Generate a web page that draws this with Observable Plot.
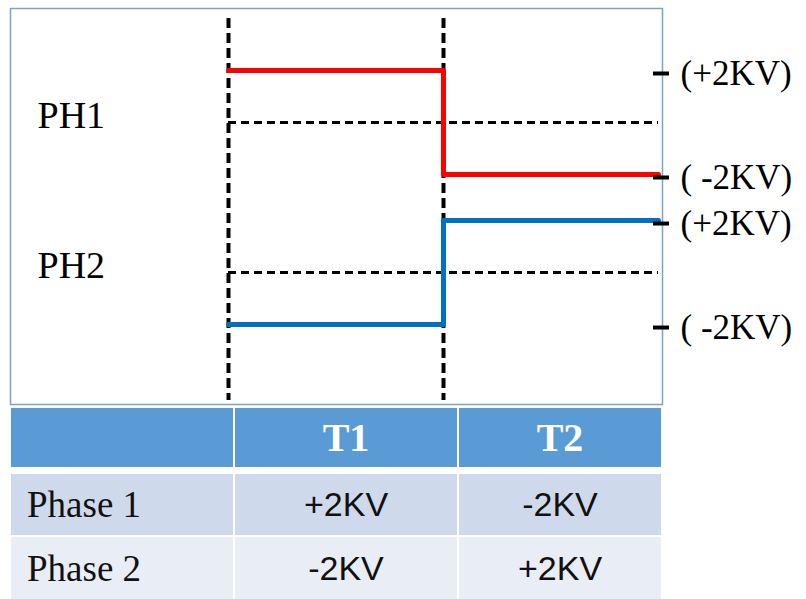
<!DOCTYPE html>
<html>
<head>
<meta charset="utf-8">
<script src="https://cdn.jsdelivr.net/npm/d3@7"></script>
<script src="https://cdn.jsdelivr.net/npm/@observablehq/plot@0.6"></script>
<style>
  body { margin: 0; background: white; }
  #wrap { width: 806px; height: 599px; overflow: hidden; position: relative; }
  #table {
    display: grid;
    margin-left: 11px;
    margin-top: 2px;
    grid-template-columns: 222px 222px 202px;
    grid-template-rows: 59px 7px 61px 2px 62px;
    column-gap: 2px;
  }
  .cell { display: flex; align-items: center; justify-content: center; }
  .hdr { background: #5B9BD5; color: white; font: bold 40px "Liberation Serif", serif; }
  .r1 { background: #CFD9EC; }
  .r2 { background: #E9EDF6; }
  .lab { justify-content: flex-start; padding-left: 16px; font: 37px "Liberation Serif", serif; color: #111; }
  .val { font: 34px "Liberation Sans", sans-serif; color: #111; }
</style>
</head>
<body>
<div id="wrap"><div id="chart"></div><div id="table"></div></div>
<script>
// ---- data ----
const periods = ["T1", "T2"];
const phases = ["PH1", "PH2"];
const phaseNames = ["Phase 1", "Phase 2"];
const phase1 = [2, -2];   // KV during T1, T2
const phase2 = [-2, 2];   // KV during T1, T2
const levels = [2, -2];
const levelLabels = ["(+2KV)", "( -2KV)"];
const valueLabels = v => (v > 0 ? "+" : "") + v + "KV";

// ---- layout ----
const LANE = [0, -5.77]; // vertical offset of each phase lane (in KV units)

const stepPoints = (vals, off) => [
  ...vals.map((v, i) => ({t: i, v: v + off})),
  {t: vals.length, v: vals[vals.length - 1] + off}
];

const tickVals = [];
const tickLabel = new Map();
LANE.forEach(off => levels.forEach((lv, j) => {
  const y = lv + off;
  tickVals.push(y);
  tickLabel.set(y, levelLabels[j]);
}));

const chart = Plot.plot({
  width: 806, height: 406,
  marginLeft: 10, marginRight: 144, marginTop: 8, marginBottom: 2,
  x: {domain: [0, periods.length], range: [228, 658], axis: null},
  y: {domain: [2, -2], range: [70, 174], axis: null},
  style: {background: "white", overflow: "visible", fontFamily: "Liberation Serif, serif", color: "black"},
  marks: [
    Plot.frame({stroke: "#7FA1C6", strokeWidth: 1.5}),
    Plot.ruleX(periods.map((_, i) => i), {insetTop: 10, insetBottom: 4, stroke: "black", strokeWidth: 4, strokeDasharray: "10,5"}),
    Plot.ruleY(LANE, {x1: 0, x2: periods.length, stroke: "black", strokeWidth: 3, strokeDasharray: "8,5"}),
    Plot.line(stepPoints(phase1, LANE[0]), {x: "t", y: "v", curve: "step-after", stroke: "#FF0000", strokeWidth: 5}),
    Plot.line(stepPoints(phase2, LANE[1]), {x: "t", y: "v", curve: "step-after", stroke: "#0070C0", strokeWidth: 5}),
    Plot.axisY(tickVals, {anchor: "right", label: null, tickSize: 16, tickPadding: 12, dx: -10, strokeWidth: 4,
      tickFormat: d => tickLabel.get(d), fontSize: 35, dy: 3}),
    Plot.text(phases, {y: (d, i) => LANE[i], text: d => d, frameAnchor: "left", dx: 27, dy: -7,
      textAnchor: "start", fontSize: 38})
  ]
});
document.getElementById("chart").appendChild(chart);

// ---- table ----
const tbl = document.getElementById("table");
function cell(cls, text, row, col) {
  const d = document.createElement("div");
  d.className = "cell " + cls;
  d.textContent = text;
  d.style.gridRow = row;
  d.style.gridColumn = col;
  tbl.appendChild(d);
}
cell("hdr", "", 1, 1);
periods.forEach((p, i) => cell("hdr", p, 1, i + 2));
[phase1, phase2].forEach((vals, r) => {
  const row = r === 0 ? 3 : 5;
  const cls = r === 0 ? "r1" : "r2";
  cell(cls + " lab", phaseNames[r], row, 1);
  vals.forEach((v, i) => cell(cls + " val", valueLabels(v), row, i + 2));
});
</script>
</body>
</html>
